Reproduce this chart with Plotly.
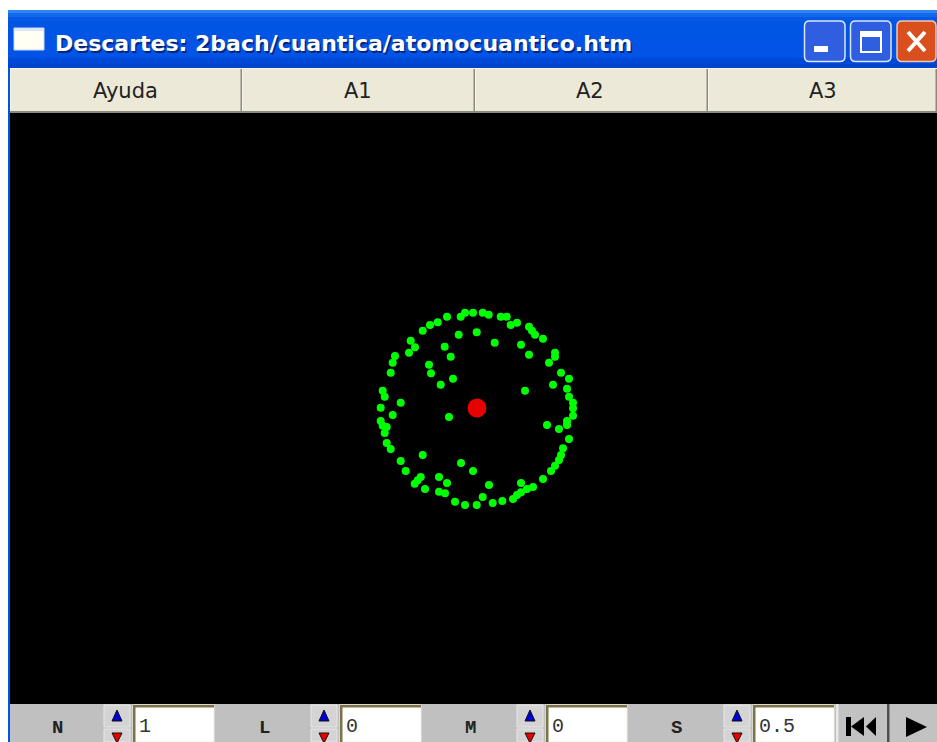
import plotly.graph_objects as go

# Electron positions (screen pixels)
electron_x = [447,460.7,465,437.7,430,422.7,410.7,415,409,395,392.7,390.7,382.7,384.7,400.7,380.7,458.7,476.7,444.7,450.7,429,431,453,440.7,
              473,482.7,488.7,500.7,506.7,510.7,517,529,532,535,543,494.7,521,529,555,555,549,561,569,553,567,525,569,573,573,
              392.7,380.7,382.7,386.7,384.7,386.7,390.7,400.7,405.7,422.7,461,473,449,439,447,420.7,414.7,417.7,425,439,445,455,465,
              573,567,567,547,559,569,563,561,559,555,551,543,489,521,533,527,521,517,513,502.3,492.7,482.7,476.7]
electron_y = [316.7,316.7,312.7,322.3,325,330.7,340.7,347.3,352.7,356,362.7,372.7,390.7,396.7,402.7,407.7,334.7,332.3,346.7,356.7,364.7,373.3,378.7,384.7,
              312.7,312.7,314.7,316.7,316.7,325,322.7,326.7,330.7,334.7,338.7,342.7,344.7,354.7,352.7,356.7,362.7,372.7,378.7,384.7,388.7,390.7,396.7,402.7,408.3,
              415,421,425.7,427,433,443,449,461,471,455,463,471,417,477,483,477,483.7,480.3,489,491.7,493.3,501.7,505,
              415.7,421,425,425,429,439,448.3,455,460,465.7,471,479,485,483,487,489,492.3,495,499,501,503,497,505]
nucleus_x = [477]
nucleus_y = [408]
menu_labels = ["Ayuda", "A1", "A2", "A3"]
menu_centers = [125, 358, 590, 823]
control_names = ["N", "L", "M", "S"]
control_values = ["1", "0", "0", "0.5"]
window_title = "Descartes: 2bach/cuantica/atomocuantico.htm"

shapes, annotations = [], []

def rect(x0, y0, x1, y1, fill, line=None, width=1):
    shapes.append(dict(type="rect", xref="x", yref="y", x0=x0, y0=y0, x1=x1, y1=y1, layer="below",
                       fillcolor=fill, line=dict(color=line or fill, width=width if line else 0)))

def poly(points, fill, line=None, width=1):
    path = "M " + " L ".join(f"{a} {b}" for a, b in points) + " Z"
    shapes.append(dict(type="path", path=path, xref="x", yref="y", layer="below", fillcolor=fill,
                       line=dict(color=line or fill, width=width if line else 0)))

def round_rect(x0, y0, x1, y1, r, fill, line, width=1.5):
    path = (f"M {x0+r} {y0} L {x1-r} {y0} Q {x1} {y0} {x1} {y0+r} L {x1} {y1-r} Q {x1} {y1} {x1-r} {y1} "
            f"L {x0+r} {y1} Q {x0} {y1} {x0} {y1-r} L {x0} {y0+r} Q {x0} {y0} {x0+r} {y0} Z")
    shapes.append(dict(type="path", path=path, xref="x", yref="y", layer="below", fillcolor=fill,
                       line=dict(color=line, width=width)))

def text(x, y, s, size, color="#222", family="DejaVu Sans", anchor="center", bold=False, shadow=None):
    font = dict(size=size, color=color, family=family)
    if shadow:
        font["shadow"] = shadow
    annotations.append(dict(x=x, y=y, xref="x", yref="y", text=f"<b>{s}</b>" if bold else s, showarrow=False,
                            xanchor=anchor, yanchor="middle", font=font))

# Window frame and title bar
rect(8, 10, 937, 742, "#0054E3")
for y0, y1, c in [(10, 13, "#2E86F5"), (13, 17, "#1468EE"), (17, 22, "#0458E4"), (22, 40, "#0055E5"),
                  (40, 58, "#0253E6"), (58, 64, "#0048D8"), (64, 68, "#0044CC")]:
    rect(8, y0, 937, y1, c)
rect(14, 28, 44, 50, "#FFFFF4", "#C9D6EE")
rect(14, 28, 44, 31, "#DDE6F6")
text(52.5, 43, window_title, 22, "#FFFFFF", anchor="left", bold=True, family="DejaVu Sans",
     shadow="1.5px 1.5px 0px #04257C")

# Window buttons
round_rect(804.5, 21, 845, 61.5, 5, "#2F5FE0", "#DCE6FA")
rect(814, 46, 828, 52, "#FFFFFF")
round_rect(850.5, 21, 891, 61.5, 5, "#2F5FE0", "#DCE6FA")
rect(861, 32, 881, 52, "rgba(0,0,0,0)", "#FFFFFF", 2)
rect(860, 31, 882, 37, "#FFFFFF")
round_rect(897, 21, 936, 61.5, 5, "#D9501E", "#F0C8B4")
shapes.append(dict(type="path", path="M 908 32 L 925 51 M 925 32 L 908 51", xref="x", yref="y", layer="below",
                   line=dict(color="#FFFFFF", width=4)))

# Menu buttons
rect(10, 68, 937, 114, "#F8F6EC")
menu_edges = [10, 242, 475, 708, 937]
for i in range(4):
    rect(menu_edges[i] + 1, 69, menu_edges[i + 1] - 1, 112, "#ECE9D8")
    rect(menu_edges[i + 1] - 1.5, 69, menu_edges[i + 1], 113, "#8C8A7C")
    text(menu_centers[i], 91, menu_labels[i], 21, "#222222", family="DejaVu Sans")
rect(10, 111, 937, 113, "#8C8A7C")

# Black canvas
rect(10, 113, 937, 704, "#000000")

# Bottom bar
rect(10, 704, 937, 742, "#C0C0C0")
label_x = [57, 264, 470, 676]
spinner_x = [104, 311, 517, 724]
for i in range(4):
    text(label_x[i], 728, control_names[i], 19, "#222222", family="Liberation Mono", bold=True)
    sx = spinner_x[i]
    rect(sx, 705, sx + 26, 727, "#D4D4D4", "#E8E8E8")
    rect(sx, 729, sx + 26, 742, "#D4D4D4", "#E8E8E8")
    poly([(sx + 13, 710), (sx + 8, 721), (sx + 18, 721)], "#0000D8", "#111111")
    poly([(sx + 8, 733), (sx + 18, 733), (sx + 13, 743)], "#E80000", "#111111")
    fx = sx + 29
    rect(fx, 705, fx + 81, 742, "#FFFFFF", "#F0EEE0", 1)
    rect(fx, 705, fx + 81, 707.5, "#7C7448")
    rect(fx, 705, fx + 2.5, 742, "#7C7448")
    text(fx + 4, 726, control_values[i], 20, "#333333", family="Liberation Mono", anchor="left")

# Rewind and play buttons
rect(838, 705, 887.5, 742, "#C2C2C2")
rect(889.5, 705, 937, 742, "#C2C2C2")
rect(836, 704, 838.5, 742, "#E8E8E8")
rect(887, 704, 889.5, 742, "#505050")
rect(846, 717, 851, 736, "#000000")
poly([(851, 726.5), (864, 717), (864, 736)], "#000000")
poly([(866, 726.5), (876, 717), (876, 736)], "#000000")
poly([(906, 717), (906, 737), (927, 727)], "#000000")

fig = go.Figure()
fig.add_trace(go.Scatter(x=electron_x, y=electron_y, mode="markers", name="electrones", cliponaxis=False,
                         marker=dict(color="#00FF00", size=8, line=dict(width=0)), hoverinfo="skip"))
fig.add_trace(go.Scatter(x=nucleus_x, y=nucleus_y, mode="markers", name="núcleo",
                         marker=dict(color="#E60000", size=19, line=dict(width=0)), hoverinfo="skip"))
fig.update_layout(width=937, height=742, margin=dict(l=0, r=0, t=0, b=0), showlegend=False,
                  paper_bgcolor="#FFFFFF", plot_bgcolor="#FFFFFF", shapes=shapes, annotations=annotations,
                  xaxis=dict(range=[0, 937], visible=False, fixedrange=True),
                  yaxis=dict(range=[742, 0], visible=False, fixedrange=True))
fig.write_html("out.html", config=dict(displayModeBar=False),
               post_script="document.body.style.margin='0';document.body.style.overflow='hidden';")
